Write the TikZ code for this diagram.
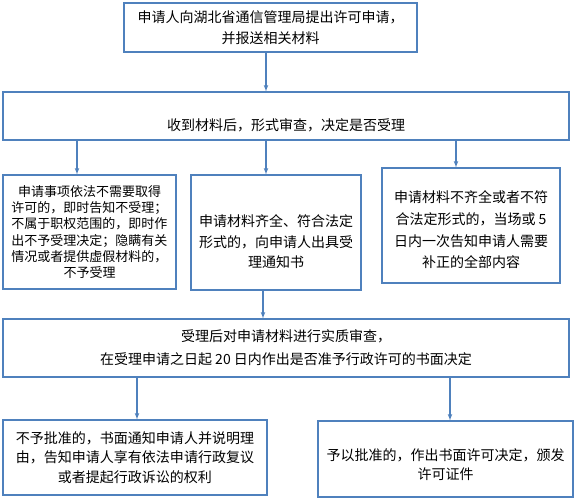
\documentclass[tikz,border=0pt]{standalone}
\usepackage{fontspec}
\setmainfont{Noto Sans CJK SC}
\usepackage{xcolor}
\usetikzlibrary{arrows}
\definecolor{boxblue}{HTML}{4F81BD}

\begin{document}
\begin{tikzpicture}[x=1pt,y=-1pt]
	
	\tikzstyle{vbox} = [draw=boxblue,line width=1.2pt,fill=white,align=center,inner sep=0pt]
	\tikzstyle{vedge} = [->,>=latex,draw=boxblue,line width=1.1pt]
	
	\useasboundingbox (0,0) rectangle (578,501);
	
	\node[vbox,minimum width=293pt,minimum height=49pt,font=\fontsize{14}{21}\selectfont] (apply) at (270.5,27.5) {申请人向湖北省通信管理局提出许可申请，\\并报送相关材料};
	\node[vbox,minimum width=566pt,minimum height=48pt,font=\fontsize{14}{20}\selectfont,text height=30pt,text depth=2pt] (check) at (286,116) {收到材料后，形式审查，决定是否受理};
	
	\node[vbox,minimum width=173pt,minimum height=114pt,font=\fontsize{13}{16.2}\selectfont] (reject) at (89.5,232) {申请事项依法不需要取得\\许可的，即时告知不受理；\\不属于职权范围的，即时作\\出不予受理决定；隐瞒有关\\情况或者提供虚假材料的，\\不予受理};
	\node[vbox,minimum width=170pt,minimum height=115pt,font=\fontsize{14}{20.8}\selectfont,text height=72pt] (accept) at (276,232.5) {申请材料齐全、符合法定\\形式的，向申请人出具受\\理通知书};
	\node[vbox,minimum width=178pt,minimum height=115pt,font=\fontsize{14}{21.7}\selectfont,text height=86pt] (supply) at (471,225.5) {申请材料不齐全或者不符\\合法定形式的，当场或 5\\日内一次告知申请人需要\\补正的全部内容};
	
	\node[vbox,minimum width=566pt,minimum height=58pt,font=\fontsize{14}{23}\selectfont] (review) at (286,348) {受理后对申请材料进行实质审查，\\在受理申请之日起 20 日内作出是否准予行政许可的书面决定};
	
	\node[vbox,minimum width=264pt,minimum height=75pt,font=\fontsize{14}{19.5}\selectfont] (deny) at (135,457.5) {不予批准的，书面通知申请人并说明理\\由，告知申请人享有依法申请行政复议\\或者提起行政诉讼的权利};
	\node[vbox,minimum width=255pt,minimum height=76pt,font=\fontsize{14}{18.5}\selectfont,text height=42pt] (grant) at (445.5,459) {予以批准的，作出书面许可决定，颁发\\许可证件};
	
	\draw ([xshift=-4.5pt]apply.south) edge [vedge] ([xshift=-4.5pt]apply.south |- check.north);
	\draw ([xshift=-12.5pt]reject.north |- check.south) edge [vedge] ([xshift=-12.5pt]reject.north);
	\draw ([xshift=-10pt]accept.north |- check.south) edge [vedge] ([xshift=-10pt]accept.north);
	\draw ([xshift=-15pt]supply.north |- check.south) edge [vedge] ([xshift=-15pt]supply.north);
	\draw ([xshift=-13pt]accept.south) edge [vedge] ([xshift=-13pt]accept.south |- review.north);
	\draw ([xshift=2pt]deny.north |- review.south) edge [vedge] ([xshift=2pt]deny.north);
	\draw ([xshift=4.5pt]grant.north |- review.south) edge [vedge] ([xshift=4.5pt]grant.north);

\end{tikzpicture}
\end{document}
